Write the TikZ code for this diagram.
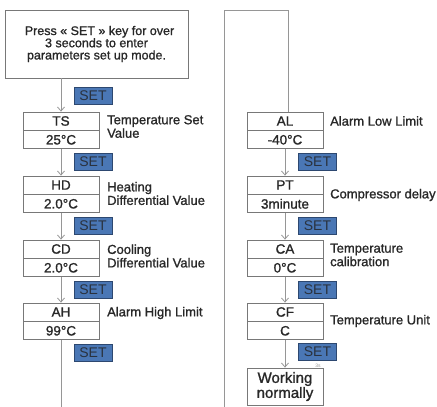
\documentclass[tikz,border=0pt]{standalone}
\usepackage{fontspec}
\setmainfont{Liberation Sans}
\newfontfamily\medfont[FakeBold=1.2]{Liberation Sans}
\usetikzlibrary{arrows.meta,positioning}
\definecolor{linegray}{RGB}{150,150,150}
\definecolor{boxgray}{RGB}{120,120,120}
\definecolor{txtdark}{RGB}{40,40,40}
\definecolor{setblue}{RGB}{74,119,181}
\definecolor{setedge}{RGB}{45,72,112}
\tikzset{
  intro/.style={draw=boxgray, line width=0.9pt, minimum width=183pt, minimum height=68pt,
                align=center, text=txtdark, font=\medfont\fontsize{12.5}{12.2}\selectfont},
  cell/.style={draw=boxgray, fill=white, line width=0.8pt, minimum width=76pt, minimum height=18pt,
               inner sep=0pt, text=txtdark, font=\medfont\fontsize{13.5}{12}\selectfont},
  endbox/.style={cell, minimum height=37pt, align=center, font=\medfont\fontsize{15}{15}\selectfont},
  setkey/.style={draw=setedge, fill=setblue, line width=0.6pt, minimum width=38pt, minimum height=17pt,
                 inner sep=0pt, text=txtdark!70!setedge, font=\fontsize{14}{12}\selectfont},
  lbl/.style={anchor=west, align=left, inner sep=0pt, text=txtdark, font=\medfont\fontsize{13}{13.5}\selectfont},
  flow/.style={-{Straight Barb[length=4pt,width=7pt]}, linegray, line width=0.8pt},
  wire/.style={linegray, line width=0.8pt},
}
\begin{document}
\begin{tikzpicture}[x=1pt,y=-1pt]
\useasboundingbox (0,0) rectangle (437,407);
% entry box
\node[intro] (start) at (96.5,44) {\hspace*{6pt}Press « SET » key for over\\3 seconds to enter\\parameters set up mode.};
% left column
\node[cell] (ts) at (61,121) {TS};
\node[cell, below=0pt of ts] (tsv) {25°C};
\node[cell] (hd) at (61,185) {HD};
\node[cell, below=0pt of hd] (hdv) {2.0°C};
\node[cell] (cd) at (61,249) {CD};
\node[cell, below=0pt of cd] (cdv) {2.0°C};
\node[cell] (ah) at (61,312) {AH};
\node[cell, below=0pt of ah] (ahv) {99°C};
\node[lbl] (tsl) at (107,126.5) {Temperature Set\\Value};
\node[lbl] (hdl) at (107,193.5) {Heating\\Differential Value};
\node[lbl] (cdl) at (107,256) {Cooling\\Differential Value};
\node[lbl] (ahl) at (107,313) {Alarm High Limit};
% right column
\node[cell] (al) at (285,121) {AL};
\node[cell, below=0pt of al] (alv) {-40°C};
\node[cell] (pt) at (285,185) {PT};
\node[cell, below=0pt of pt] (ptv) {3minute};
\node[cell] (ca) at (285,249) {CA};
\node[cell, below=0pt of ca] (cav) {0°C};
\node[cell] (cf) at (285,312) {CF};
\node[cell, below=0pt of cf] (cfv) {C};
\node[endbox] (work) at (285,386.5) {Working\\normally};
\node[lbl] (alt) at (330,121) {Alarm Low Limit};
\node[lbl] (ptl) at (330,195) {Compressor delay};
\node[lbl] (cal) at (330,255) {Temperature\\calibration};
\node[lbl] (cfl) at (330,321) {Temperature Unit};
% arrows
\draw[flow] (ts |- start.south) -- (ts);
\draw[flow] (tsv) -- (hd);
\draw[flow] (hdv) -- (cd);
\draw[flow] (cdv) -- (ah);
\draw[flow] (alv) -- (pt);
\draw[flow] (ptv) -- (ca);
\draw[flow] (cav) -- (cf);
\draw[flow] (cfv) -- (work);
% return line
\coordinate (loopb) at (224,407);
\coordinate (loopt) at (224,10);
\draw[wire] (ahv) -- (ahv |- loopb);
\draw[wire] (loopb) -- (loopt) -| ([xshift=3pt]al.north);
% SET keys
\node[setkey] (k1) at (93,95.5) {SET};
\node[setkey] (k2) at (93,162) {SET};
\node[setkey] (k3) at (93,226) {SET};
\node[setkey] (k4) at (93,290) {SET};
\node[setkey] (k5) at (93,353) {SET};
\node[setkey] (k6) at (317.5,162) {SET};
\node[setkey] (k7) at (317.5,226) {SET};
\node[setkey] (k8) at (317.5,290) {SET};
\node[setkey] (k9) at (317.5,352) {SET};
\node[text=linegray, font=\fontsize{5}{5}\selectfont, inner sep=0pt] (hold) at (318,365.5) {3s};
\end{tikzpicture}
\end{document}
